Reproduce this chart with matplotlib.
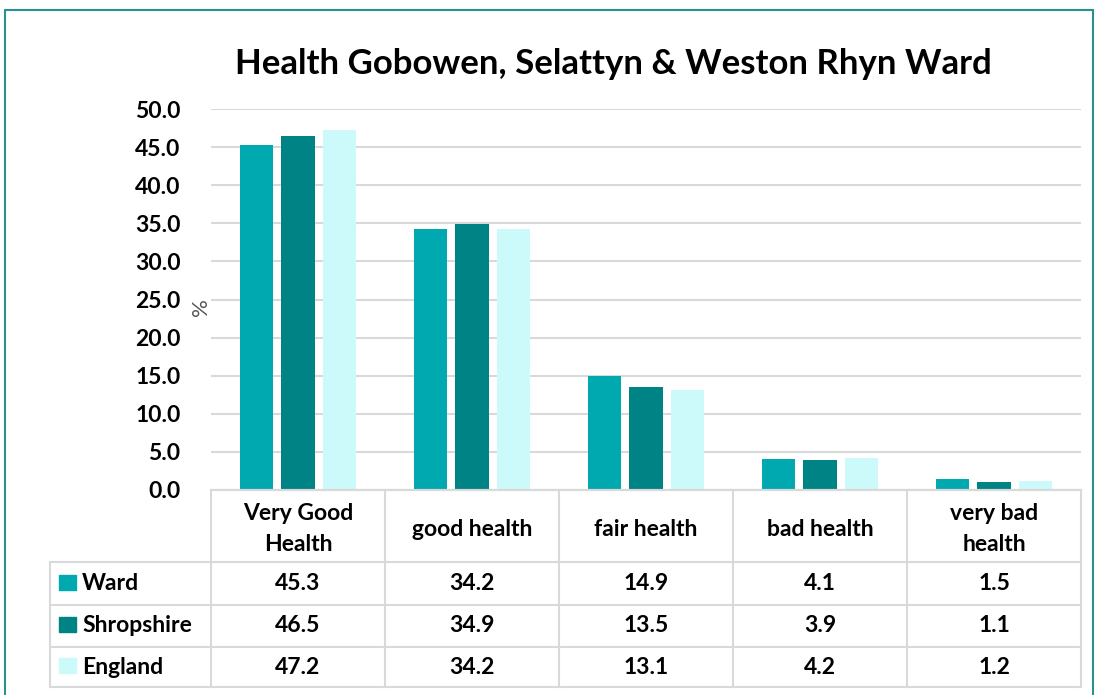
import numpy as np
import matplotlib
matplotlib.use('Agg')
import matplotlib.pyplot as plt
from matplotlib.patches import Rectangle

plt.rcParams['font.family'] = ['Lato', 'DejaVu Sans']

categories = ['Very Good\nHealth', 'good health', 'fair health', 'bad health', 'very bad\nhealth']
series = ['Ward', 'Shropshire', 'England']
ward = [45.3, 34.2, 14.9, 4.1, 1.5]
shropshire = [46.5, 34.9, 13.5, 3.9, 1.1]
england = [47.2, 34.2, 13.1, 4.2, 1.2]
colors = ['#00A8B0', '#008385', '#CCFAFA']
values = [ward, shropshire, england]

W, H = 1097, 695
fig = plt.figure(figsize=(W / 100, H / 100), dpi=100)
fs = 16.5

def fx(px):
    return px / W

def fy(py):
    return 1 - py / H

# outer border
fig.patches.append(Rectangle((fx(5), fy(720)), fx(1093) - fx(5), fy(10) - fy(720),
                             transform=fig.transFigure, fill=False,
                             edgecolor='#2a9090', linewidth=1.5))

fig.text(fx(613), fy(64), 'Health Gobowen, Selattyn & Weston Rhyn Ward',
         ha='center', va='center', fontsize=25, fontweight='bold')

# chart
ax = fig.add_axes([fx(211), fy(490), fx(1081) - fx(211), fy(109) - fy(490)])
x = np.arange(len(categories))
offsets = [-0.24, 0.0, 0.24]
for vals, off, c in zip(values, offsets, colors):
    ax.bar(x + off, vals, width=0.19, color=c, zorder=2)
ax.set_xlim(-0.5, len(categories) - 0.5)
ax.set_ylim(0, 50)
ax.set_yticks(np.arange(0, 51, 5))
ax.set_yticklabels(['%.1f' % v for v in np.arange(0, 51, 5)],
                   fontsize=fs, fontweight='bold')
ax.tick_params(axis='y', length=0, pad=22)
ax.set_xticks([])
ax.yaxis.grid(True, color='#d9d9d9', linewidth=1.5, zorder=0)
for s in ['top', 'right', 'left']:
    ax.spines[s].set_visible(False)
ax.spines['bottom'].set_color('#d9d9d9')
ax.spines['bottom'].set_linewidth(1.5)
ax.set_ylabel('%', fontsize=16, color='#555555')
ax.yaxis.set_label_coords(0.0, 0.48)

# data table
tx = fig.add_axes([fx(50), fy(687), fx(1081) - fx(50), fy(490) - fy(687)])
tx.set_xlim(50, 1081)
tx.set_ylim(687, 490)
tx.axis('off')
col_edges = [211 + 174 * i for i in range(len(categories) + 1)]
row_edges = [490, 562, 605, 647, 687]
lc = '#d9d9d9'
lw = 1.5
for cx in col_edges:
    tx.plot([cx, cx], [490, 687], color=lc, lw=lw, clip_on=False)
tx.plot([50, 50], [562, 687], color=lc, lw=lw, clip_on=False)
tx.plot([211, 1081], [490, 490], color=lc, lw=lw, clip_on=False)
for ry in row_edges[1:]:
    tx.plot([50, 1081], [ry, ry], color=lc, lw=lw, clip_on=False)

for i, cat in enumerate(categories):
    cx = (col_edges[i] + col_edges[i + 1]) / 2
    tx.text(cx, (row_edges[0] + row_edges[1]) / 2 + 3, cat, ha='center', va='center',
            fontsize=fs, fontweight='bold', linespacing=1.6)
    for j, vals in enumerate(values):
        cy = (row_edges[j + 1] + row_edges[j + 2]) / 2
        tx.text(cx, cy, '%.1f' % vals[i], ha='center', va='center',
                fontsize=fs, fontweight='bold')

for j, (name, c) in enumerate(zip(series, colors)):
    cy = (row_edges[j + 1] + row_edges[j + 2]) / 2
    tx.add_patch(Rectangle((59, cy - 9), 17, 15, color=c, clip_on=False))
    tx.text(82, cy, name, ha='left', va='center', fontsize=fs, fontweight='bold')

fig.savefig('out.png', dpi=100)
